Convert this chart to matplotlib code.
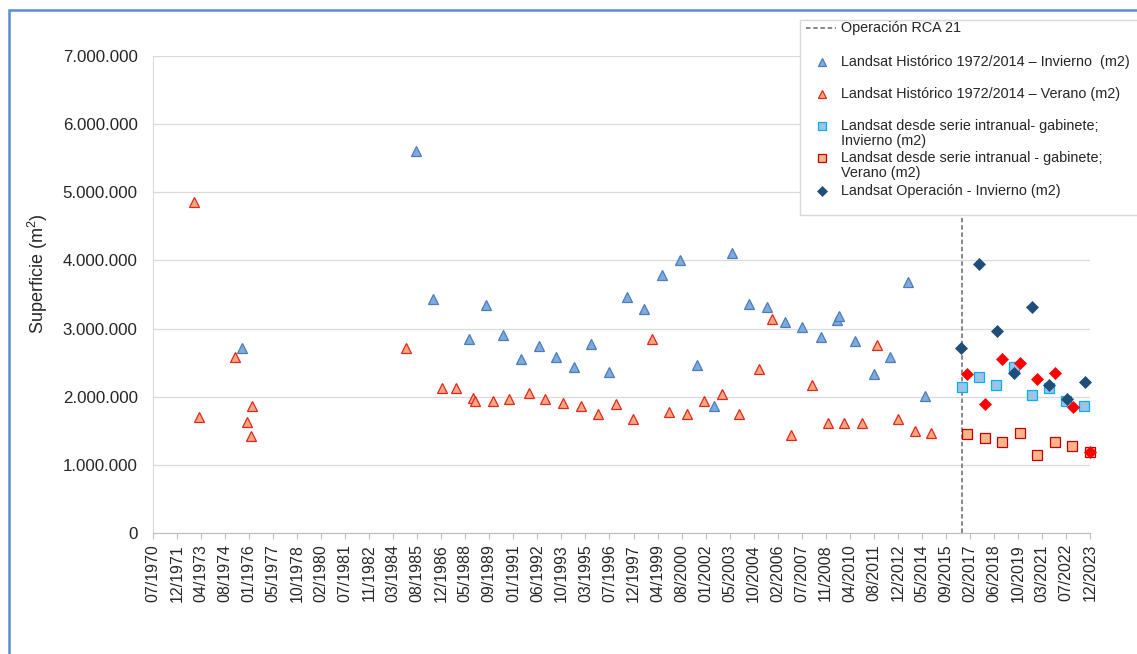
import numpy as np
import pandas as pd
import matplotlib
matplotlib.use("Agg")
import matplotlib.pyplot as plt
import matplotlib.dates as mdates
from matplotlib.lines import Line2D
from matplotlib.patches import Rectangle
from matplotlib.ticker import FuncFormatter, FixedLocator

plt.rcParams['font.family'] = ['Liberation Sans', 'DejaVu Sans']

# Landsat histórico 1972/2014 - invierno (m2)
hist_inv_fechas = ['1975-08-21', '1985-07-15', '1986-07-11', '1988-07-22', '1989-07-04', '1990-06-20',
                   '1991-07-04', '1992-07-22', '1993-07-04', '1994-07-08', '1995-07-01', '1996-07-19',
                   '1997-07-22', '1998-07-19', '1999-07-15', '2000-07-29', '2001-07-11', '2002-07-08',
                   '2003-07-11', '2004-07-01', '2005-07-11', '2006-07-26', '2007-07-08', '2008-08-14',
                   '2009-07-08', '2009-08-14', '2010-07-22', '2011-08-10', '2012-07-22', '2013-07-19',
                   '2014-07-15']
hist_inv_m2 = [2720000, 5600000, 3430000, 2850000, 3350000, 2900000, 2560000, 2750000, 2590000,
               2430000, 2780000, 2360000, 3470000, 3290000, 3780000, 4010000, 2460000, 1870000,
               4110000, 3360000, 3320000, 3090000, 3020000, 2870000, 3130000, 3180000, 2820000,
               2340000, 2580000, 3690000, 2010000]

# Landsat histórico 1972/2014 - verano (m2)
hist_ver_fechas = ['1972-11-10', '1973-03-13', '1975-03-20', '1975-11-17', '1976-02-25', '1976-03-16',
                   '1984-12-13', '1987-01-01', '1987-11-03', '1988-10-22', '1988-11-14', '1989-11-25',
                   '1990-11-07', '1991-12-27', '1992-11-25', '1993-12-06', '1994-12-06', '1995-12-06',
                   '1996-11-28', '1997-12-02', '1998-12-20', '1999-12-13', '2000-12-16', '2001-12-13',
                   '2002-12-16', '2003-12-16', '2005-01-19', '2005-10-30', '2006-11-21', '2008-02-03',
                   '2008-12-27', '2009-12-06', '2010-12-06', '2011-10-26', '2012-12-23', '2013-12-20',
                   '2014-11-17']
hist_ver_m2 = [4860000, 1700000, 2590000, 1630000, 1420000, 1860000, 2720000, 2130000, 2130000,
               1980000, 1940000, 1930000, 1960000, 2060000, 1960000, 1910000, 1870000, 1750000,
               1900000, 1670000, 2850000, 1780000, 1750000, 1940000, 2040000, 1750000, 2400000,
               3140000, 1440000, 2170000, 1620000, 1620000, 1610000, 2760000, 1680000, 1490000,
               1470000]

# serie intranual - gabinete
gab_inv_fechas = ['2016-08-17', '2017-08-20', '2018-08-03', '2019-08-07', '2020-08-14', '2021-08-17',
                  '2022-07-29', '2023-08-10']
gab_inv_m2 = [2140000, 2290000, 2170000, 2430000, 2030000, 2130000, 1940000, 1870000]
gab_ver_fechas = ['2016-12-13', '2017-12-16', '2018-12-13', '2019-12-16', '2020-12-09', '2021-12-13',
                  '2022-12-09', '2023-12-13']
gab_ver_m2 = [1460000, 1400000, 1340000, 1470000, 1140000, 1340000, 1280000, 1190000]

# operación
op_inv_fechas = ['2016-08-03', '2017-08-20', '2018-08-25', '2019-08-17', '2020-08-14', '2021-08-17',
                 '2022-08-14', '2023-08-17']
op_inv_m2 = [2710000, 3950000, 2970000, 2350000, 3320000, 2170000, 1970000, 2210000]
op_ver_fechas = ['2016-12-06', '2017-12-09', '2018-12-13', '2019-12-16', '2020-12-09', '2021-12-13',
                 '2022-12-16', '2023-12-06']
op_ver_m2 = [2330000, 1900000, 2560000, 2490000, 2260000, 2350000, 1850000, 1190000]

rca_fecha = '2016-09-01'

# eje de fechas: unidad mayor 500 días
eje_inicio = '1970-07-20'
eje_paso_dias = 500
eje_n_ticks = 40

W, H = 1137, 654
fig = plt.figure(figsize=(W / 100, H / 100), dpi=100)
ax = fig.add_axes([153 / W, 1 - 533 / H, (1090 - 153) / W, (533 - 56) / H])

estilos = {
    'hist_inv': dict(marker='^', ms=7.5, mfc='#7FAADC', mec='#4A7EBB', mew=0.9),
    'hist_ver': dict(marker='^', ms=7.5, mfc='#F4A67E', mec='#E0281E', mew=0.9),
    'gab_inv': dict(marker='s', ms=7, mfc='#9DC3E6', mec='#00B0F0', mew=0.9),
    'gab_ver': dict(marker='s', ms=7, mfc='#F8B58C', mec='#C00000', mew=0.9),
    'op_inv': dict(marker='D', ms=6.5, mfc='#1F4E79', mec='#1F4E79', mew=0.5),
    'op_ver': dict(marker='D', ms=6.5, mfc='#FF0000', mec='#FF0000', mew=0.5),
}

series = [
    ('hist_inv', hist_inv_fechas, hist_inv_m2),
    ('hist_ver', hist_ver_fechas, hist_ver_m2),
    ('gab_inv', gab_inv_fechas, gab_inv_m2),
    ('gab_ver', gab_ver_fechas, gab_ver_m2),
    ('op_inv', op_inv_fechas, op_inv_m2),
    ('op_ver', op_ver_fechas, op_ver_m2),
]
for i, (key, fechas, valores) in enumerate(series):
    ax.plot(pd.to_datetime(fechas), valores, ls='none', zorder=3 + i, clip_on=False, **estilos[key])

ax.axvline(pd.to_datetime(rca_fecha), color='#7F7F7F', ls=(0, (2.5, 1.5)), lw=1.3, zorder=2)

# ejes
ticks = pd.to_datetime(eje_inicio) + pd.to_timedelta(np.arange(eje_n_ticks) * eje_paso_dias, unit='D')
tick_nums = mdates.date2num(ticks.to_pydatetime())
ax.set_xlim(tick_nums[0], tick_nums[-1])
ax.xaxis.set_major_locator(FixedLocator(tick_nums))
ax.set_xticklabels([t.strftime('%m/%Y') for t in ticks], rotation=90, fontsize=11.5, color='#262626')
ax.tick_params(axis='x', length=4, color='#BFBFBF', pad=4)

ax.set_ylim(0, 7000000)
ax.set_yticks(np.arange(0, 7000001, 1000000))
ax.yaxis.set_major_formatter(FuncFormatter(lambda v, p: f"{int(v):,}".replace(',', '.')))
ax.tick_params(axis='y', length=0, pad=11, labelsize=12.2, labelcolor='#262626')
ax.grid(axis='y', color='#D9D9D9', lw=0.9)
ax.set_axisbelow(True)
for s in ['top', 'right']:
    ax.spines[s].set_visible(False)
ax.spines['left'].set_color('#D9D9D9')
ax.spines['bottom'].set_color('#BFBFBF')

fig.text(38 / W, 1 - 274 / H, 'Superficie (m$^\\mathregular{2}$)', rotation=90, ha='center', va='center',
         fontsize=13, color='#262626')

# marco exterior
fig.add_artist(Rectangle((8.5 / W, -0.1), 1.2, 1 - 10 / H + 0.1, transform=fig.transFigure,
                         fill=False, ec='#5B8BD0', lw=1.8))


# leyenda (formato Excel)
def fx(px):
    return px / W


def fy(py):
    return 1 - py / H


fs_ley = 10.4
fig.add_artist(Rectangle((fx(800), fy(215)), fx(400), (215 - 20) / H, transform=fig.transFigure,
                         fc='white', ec='#D9D9D9', lw=1, zorder=20))
fig.add_artist(Line2D([fx(806), fx(836)], [fy(28), fy(28)], transform=fig.transFigure,
                      color='#7F7F7F', ls=(0, (2.5, 1.5)), lw=1.3, zorder=21))
fig.text(fx(841), fy(28), 'Operación RCA 21', va='center', fontsize=fs_ley, color='#262626', zorder=21)

filas = [
    ('hist_inv', 62, ['Landsat Histórico 1972/2014 – Invierno  (m2)']),
    ('hist_ver', 94, ['Landsat Histórico 1972/2014 – Verano (m2)']),
    ('gab_inv', 126, ['Landsat desde serie intranual- gabinete;', 'Invierno (m2)']),
    ('gab_ver', 158, ['Landsat desde serie intranual - gabinete;', 'Verano (m2)']),
    ('op_inv', 191, ['Landsat Operación - Invierno (m2)']),
]
for key, py, lineas in filas:
    est = dict(estilos[key])
    est['ms'] = est['ms'] * 0.75
    fig.add_artist(Line2D([fx(822)], [fy(py)], transform=fig.transFigure, ls='none', zorder=21, **est))
    for j, txt in enumerate(lineas):
        fig.text(fx(841), fy(py + 15 * j), txt, va='center', fontsize=fs_ley, color='#262626', zorder=21)

fig.savefig('out.png', dpi=100)
